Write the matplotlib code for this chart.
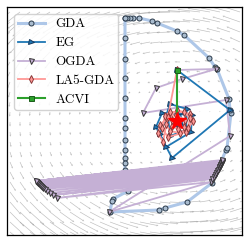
import numpy as np
import matplotlib
matplotlib.use("Agg")
import matplotlib.pyplot as plt

# ---- data (in picture coordinates, y axis inverted) ----
start = (177, 70)
equilibrium = (177, 121)

gda_x = [125, 125, 125, 125, 125, 125, 125, 125, 125, 125, 125, 125, 125, 128, 113, 112, 110,
         159, 165, 187, 212, 226, 227, 231, 230, 229, 217, 215, 209, 184, 177, 157, 152, 139, 133, 130, 127, 125]
gda_y = [18, 38, 59, 78, 98, 118, 128, 140, 150, 158, 163, 170, 180, 191, 199, 201, 212,
         210, 208, 202, 183, 150, 148, 113, 110, 99, 69, 67, 58, 35, 31, 23, 21, 18, 18, 18, 18, 18]

eg_x = [177, 230, 172, 156, 162, 192, 191, 166, 160, 170, 187, 186, 170, 168, 180, 183, 175, 177]
eg_y = [70, 110, 158, 127, 113, 115, 132, 147, 134, 104, 109, 130, 136, 116, 113, 126, 126, 121]

ogda_x = [177, 216, 182, 156, 143, 226, 230, 109, 211, 57, 212, 53, 214, 50, 215, 47, 216, 45, 217, 43,
          218, 42, 219, 41, 219, 40, 220, 39, 220, 38, 221, 38, 221, 37, 222, 37, 222, 36, 222, 36, 222]
ogda_y = [70, 69, 79, 88, 113, 100, 136, 212, 182, 198, 179, 195, 177, 193, 175, 191, 173, 189, 171, 188,
          170, 187, 168, 186, 167, 185, 166, 184, 165, 183, 164, 183, 163, 182, 162, 182, 161, 181, 161, 181, 160]

la_x = [177, 163, 158, 160, 177, 190, 193, 186, 168, 162, 165, 170, 184, 190, 188, 180, 170, 166, 168, 176, 185, 184, 178, 172, 172, 177]
la_y = [70, 142, 133, 125, 110, 114, 121, 132, 137, 128, 116, 112, 112, 118, 128, 133, 131, 124, 117, 115, 120, 127, 129, 126, 120, 121]

acvi_x = [177, 177]
acvi_y = [70, 121]

labels = ["GDA", "EG", "OGDA", "LA5-GDA", "ACVI"]

# ---- figure ----
W, H = 249, 243
fig = plt.figure(figsize=(W / 100, H / 100), dpi=100)
ax = fig.add_axes([7 / W, (H - 235) / H, 235 / W, 228 / H])
ax.set_xlim(7, 242)
ax.set_ylim(235, 7)
ax.set_xticks([])
ax.set_yticks([])

# background vector field (counter-clockwise around the equilibrium)
gx, gy = np.meshgrid(np.arange(10, 242, 10), np.arange(12, 235, 10))
X = (gx - equilibrium[0]) / 100.0
Y = (equilibrium[1] - gy) / 100.0
U = -Y * (0.5 + 1.5 * Y ** 2)
Vup = X * (0.3 + 0.8 * Y ** 2)
ax.quiver(gx, gy, U, -Vup, angles='xy', scale_units='xy', scale=1 / 9.0,
          color='0.5', alpha=0.5, width=0.0028, headwidth=3, headlength=3, headaxislength=2.7, zorder=1)

ax.plot(gda_x, gda_y, color='#aec7e8', lw=2.2, marker='o', markerfacecolor='#a9bccf', label=labels[0], zorder=3,
        markersize=3.6, markeredgewidth=0.7, markeredgecolor='#2b3a4a')
ax.plot(eg_x, eg_y, color='#1f77b4', lw=1.3, marker='>', markerfacecolor='#1f77b4', label=labels[1], zorder=4,
        markersize=3.6, markeredgewidth=0.7, markeredgecolor='#173a5e')
ax.plot(ogda_x, ogda_y, color='#c5b0d5', lw=1.3, marker='v', markerfacecolor='#c5b0d5', label=labels[2], zorder=3,
        markersize=3.6, markeredgewidth=0.7, markeredgecolor='#333333')
ax.plot(la_x, la_y, color='#ff9896', lw=1.3, marker='d', markerfacecolor='#ff9896', label=labels[3], zorder=5,
        markersize=3.6, markeredgewidth=0.7, markeredgecolor='#8a3a3a')
ax.plot(acvi_x, acvi_y, color='#2ca02c', lw=1.5, marker='s', markerfacecolor='#2ca02c', label=labels[4], zorder=6,
        markersize=3.6, markeredgewidth=0.7, markeredgecolor='#1a5c1a')
ax.plot([equilibrium[0]], [equilibrium[1]], marker='*', color='red', markersize=13, linestyle='none', zorder=7)

leg = ax.legend(loc='upper left', prop={'family': 'cmr10', 'size': 9.5}, handlelength=2.0,
                handletextpad=0.8, borderpad=0.3, borderaxespad=0.55, labelspacing=0.5,
                framealpha=0.85, fancybox=True)
for sp in ax.spines.values():
    sp.set_linewidth(0.9)

fig.savefig('out.png', dpi=100)
